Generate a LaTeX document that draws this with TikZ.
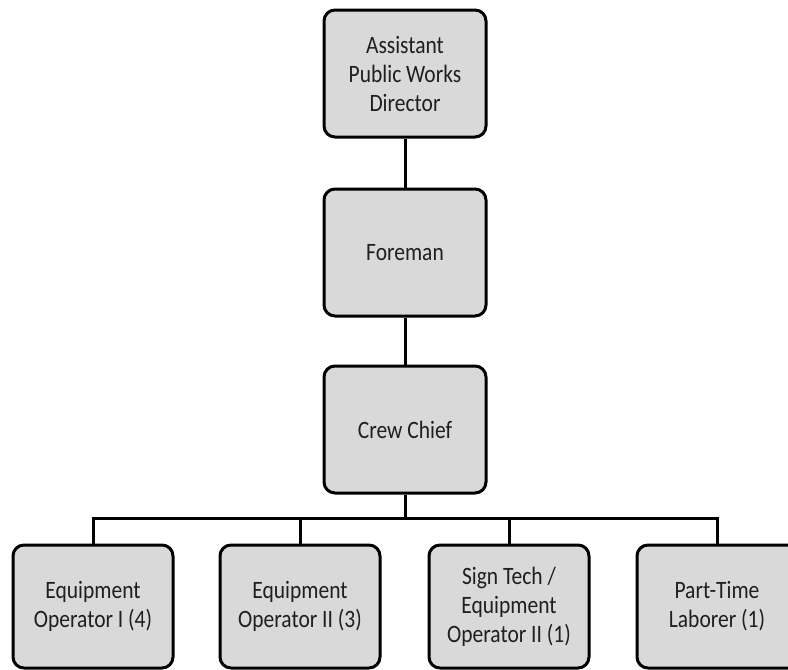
\documentclass[tikz,border=0pt]{standalone}
\usepackage{fontspec}
\setmainfont{Carlito}
\newfontfamily\boxfont[FakeStretch=0.86]{Carlito}
\begin{document}
\begin{tikzpicture}[x=1pt,y=-1pt,
  post/.style={draw=black, line width=3pt, rounded corners=11pt, fill=boxgray,
    align=center, inner sep=0pt, text=black!88,
    font=\boxfont\fontsize{25}{29}\selectfont},
  topbox/.style={post, minimum width=162pt, minimum height=127pt},
  lowbox/.style={post, minimum width=160pt, minimum height=123pt},
  link/.style={draw=black, line width=3pt}]
\definecolor{boxgray}{HTML}{D9D9D9}
\useasboundingbox (0,0) rectangle (788,670);
\node[topbox] (apwd) at (405,73.5) {Assistant\\Public Works\\Director};
\node[topbox] (fore) at (405,252.5) {Foreman};
\node[topbox] (crew) at (405,429.5) {Crew Chief};
\coordinate (bus) at (405,518);
\node[lowbox] (eq1) at (93,606.5) {Equipment\\Operator I (4)};
\node[lowbox] (eq2) at (300,606.5) {Equipment\\Operator II (3)};
\node[lowbox] (sign) at (509,606.5) {Sign Tech /\\Equipment\\Operator II (1)};
\node[lowbox, minimum width=170pt] (pt) at (722,606.5) {\hspace*{-10pt}Part-Time\\\hspace*{-10pt}Laborer (1)};
\coordinate (ptdrop) at (717,545);
\draw[link] (apwd) -- (fore);
\draw[link] (fore) -- (crew);
\draw[link] (crew) -- (bus);
\draw[link] (eq1.north) |- (bus) -| (ptdrop);
\draw[link] (eq2.north) -- (eq2.north |- bus);
\draw[link] (sign.north) -- (sign.north |- bus);
\end{tikzpicture}
\end{document}
